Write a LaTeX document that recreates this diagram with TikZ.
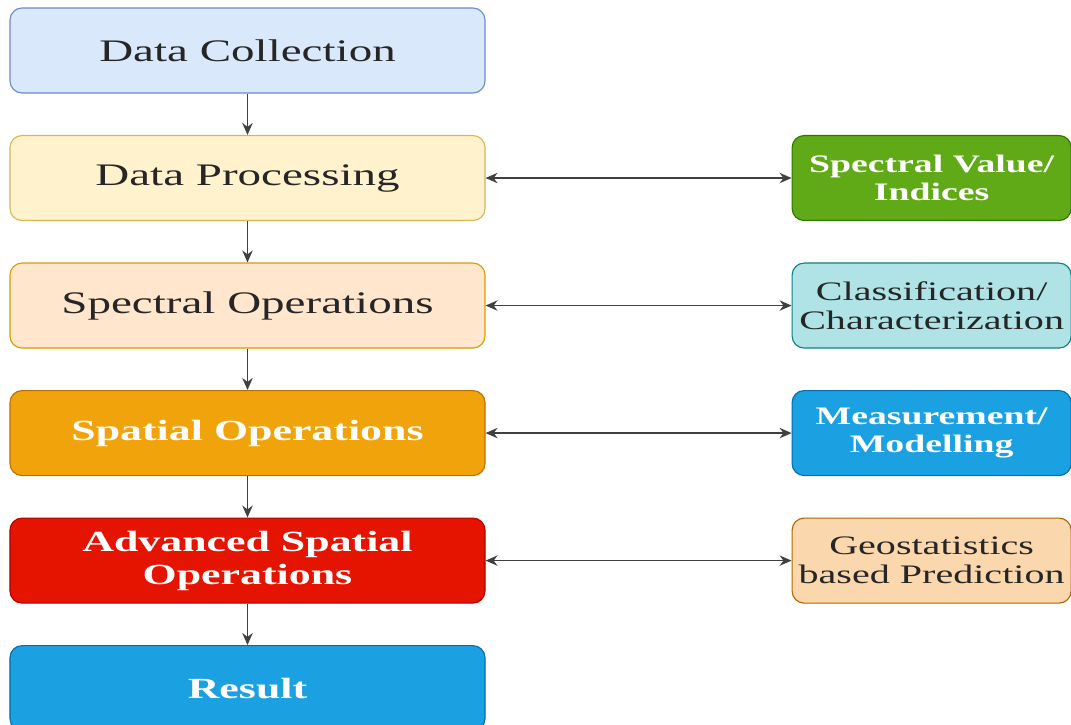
\documentclass[tikz,border=0pt]{standalone}
\usepackage{fontspec}
\setmainfont{Liberation Serif}[FakeStretch=1.5]
\usepackage{tikz}
\usetikzlibrary{arrows.meta,positioning}

\definecolor{collectfill}{HTML}{DAE8FC}\definecolor{collectline}{HTML}{6C8EBF}
\definecolor{processfill}{HTML}{FFF2CC}\definecolor{processline}{HTML}{D6B656}
\definecolor{spectralfill}{HTML}{FFE6CC}\definecolor{spectralline}{HTML}{D79B00}
\definecolor{spatialfill}{HTML}{F0A30A}\definecolor{spatialline}{HTML}{BD7000}
\definecolor{advfill}{HTML}{E51400}\definecolor{advline}{HTML}{B20000}
\definecolor{bluefill}{HTML}{1BA1E2}\definecolor{blueline}{HTML}{006EAF}
\definecolor{greenfill}{HTML}{60A917}\definecolor{greenline}{HTML}{2D7600}
\definecolor{tealfill}{HTML}{B0E3E6}\definecolor{tealline}{HTML}{0E8088}
\definecolor{peachfill}{HTML}{FAD7AC}\definecolor{peachline}{HTML}{B46504}

\begin{document}
\begin{tikzpicture}[node distance=1.035cm and 7.65cm,
  stage/.style={draw, rounded corners=0.3cm, line width=0.8pt, minimum width=11.875cm,
    minimum height=2.125cm, align=center, text=black!85, font=\fontsize{22.3}{24.5}\selectfont},
  side/.style={draw, rounded corners=0.3cm, line width=0.8pt, minimum width=6.975cm,
    minimum height=2.125cm, align=center, text=black!85, font=\fontsize{19}{20.5}\selectfont},
  light/.style 2 args={text=white, font={\fontsize{#1}{#2}\selectfont\bfseries}},
  flow/.style={-{Stealth[length=0.3cm,width=0.26cm]}, line width=1.3pt, draw=black!75},
  link/.style={{Stealth[length=0.3cm,width=0.26cm]}-{Stealth[length=0.3cm,width=0.26cm]}, line width=1.1pt, draw=black!75}]

\useasboundingbox (0,0) rectangle (26.775,-18.125);

%main chain of stages
\node[stage, fill=collectfill, draw=collectline] (collect) at (6.1875,-1.2625) {Data Collection};
\node[stage, fill=processfill, draw=processline, below=of collect] (process) {Data Processing};
\node[stage, fill=spectralfill, draw=spectralline, below=of process] (spectral) {Spectral Operations};
\node[stage, fill=spatialfill, draw=spatialline, light={20.8}{23.4}, below=of spectral] (spatial) {Spatial Operations};
\node[stage, fill=advfill, draw=advline, light={20.8}{23.4}, below=of spatial] (advanced) {Advanced Spatial\\Operations};
\node[stage, fill=bluefill, draw=blueline, light={20.8}{23.4}, below=of advanced] (result) {Result};

%outputs on the right
\node[side, fill=greenfill, draw=greenline, light={17.9}{20}, right=of process] (indices) {Spectral Value/\\Indices};
\node[side, fill=tealfill, draw=tealline, right=of spectral] (classify) {Classification/\\Characterization};
\node[side, fill=bluefill, draw=blueline, light={17.9}{20}, right=of spatial] (measure) {Measurement/\\Modelling};
\node[side, fill=peachfill, draw=peachline, right=of advanced] (predict) {Geostatistics\\based Prediction};

\draw[flow] (collect) -- (process);
\draw[flow] (process) -- (spectral);
\draw[flow] (spectral) -- (spatial);
\draw[flow] (spatial) -- (advanced);
\draw[flow] (advanced) -- (result);

\draw[link] (process) -- (indices);
\draw[link] (spectral) -- (classify);
\draw[link] (spatial) -- (measure);
\draw[link] (advanced) -- (predict);

\end{tikzpicture}
\end{document}
